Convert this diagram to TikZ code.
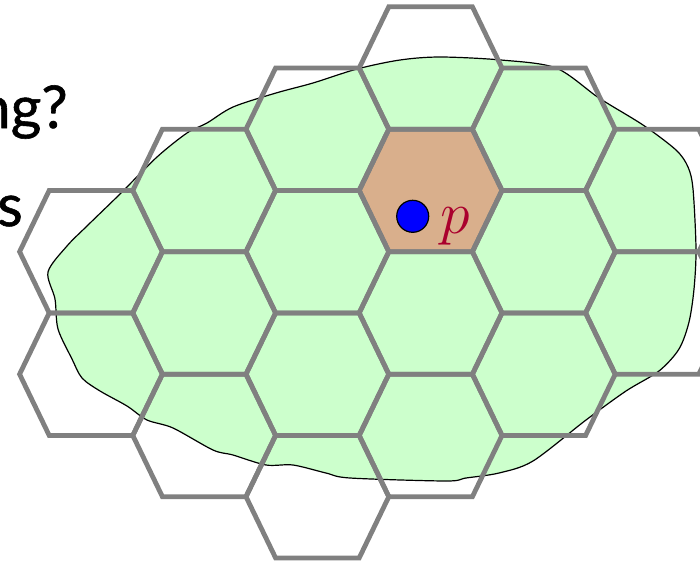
\RequirePackage{fix-cm}
\documentclass[tikz,border=0pt]{standalone}
\usepackage{fontspec}
\setmainfont{Lato}
\newfontfamily\heavysans{Lato}[FakeBold=1]
\definecolor{hexgray}{RGB}{128,128,128}
\definecolor{blobgreen}{RGB}{204,255,204}
\definecolor{celltan}{RGB}{217,175,140}
\definecolor{labelred}{RGB}{170,0,45}
\def\hexA{41.8}
\def\hexB{71.4}
\def\hexH{61.25}
\begin{document}
\begin{tikzpicture}[x=1pt,y=-1pt,
  hexedge/.style={draw=hexgray,line width=4.8pt,line join=miter},
  hexcell/.style={fill=celltan,draw=none},
  blob/.style={fill=blobgreen,draw=black,line width=1.2pt},
  dotstyle/.style={circle,fill=blue,draw=black,line width=1.2pt,minimum size=32pt,inner sep=0pt},
  plabel/.style={text=labelred,inner sep=0pt,font=\fontsize{60}{62}\selectfont},
  bigtext/.style={inner sep=0pt,font=\heavysans\fontsize{59}{62}\selectfont}]
\useasboundingbox (0,0) rectangle (700,567);
% region
\draw[blob] plot[smooth cycle, tension=0.5] coordinates {
 (233,107) (276,93) (313,83) (357,69) (400,60) (440,57) (501,60) (556,68)
 (599,98) (643,125) (676,150) (688,167) (693,189) (696,249) (694,289)
 (689,322) (679,349) (659,371) (626,391) (586,420) (533,461) (499,473)
 (466,478) (446,481) (350,478) (326,473) (293,465) (266,465) (233,455)
 (213,450) (173,428) (147,420) (127,406) (100,391) (82,378) (72,359)
 (58,329) (55,299) (48,272) (67,246) (87,226) (120,194) (157,157)
 (187,133) (207,123)};
% highlighted cell
\fill[hexcell] ({430.6-\hexA},{190.45-\hexH}) -- ({430.6+\hexA},{190.45-\hexH})
  -- ({430.6+\hexB},190.45) -- ({430.6+\hexA},{190.45+\hexH})
  -- ({430.6-\hexA},{190.45+\hexH}) -- ({430.6-\hexB},190.45) -- cycle;
% hexagon grid
\foreach \cx/\cy in {91/251.7, 91/374.2,
  204.2/190.45, 204.2/312.95, 204.2/435.45,
  317.4/129.2, 317.4/251.7, 317.4/374.2, 317.4/496.7,
  430.6/68, 430.6/190.45, 430.6/312.95, 430.6/435.45,
  543.8/129.2, 543.8/251.7, 543.8/374.2,
  657/190.45, 657/312.95}{
  \draw[hexedge] ({\cx-\hexA},{\cy-\hexH}) -- ({\cx+\hexA},{\cy-\hexH})
    -- ({\cx+\hexB},\cy) -- ({\cx+\hexA},{\cy+\hexH})
    -- ({\cx-\hexA},{\cy+\hexH}) -- ({\cx-\hexB},\cy) -- cycle;
}
% point p
\node[dotstyle] (pt) at (412.7,216.3) {};
\node[plabel,anchor=base west] (plab) at (440,233) {$p$};
% cut-off text
\node[bigtext,anchor=base east] (t1) at (68,128) {ng?};
\node[bigtext,anchor=base east] (t2) at (23,226) {s};
\end{tikzpicture}
\end{document}
